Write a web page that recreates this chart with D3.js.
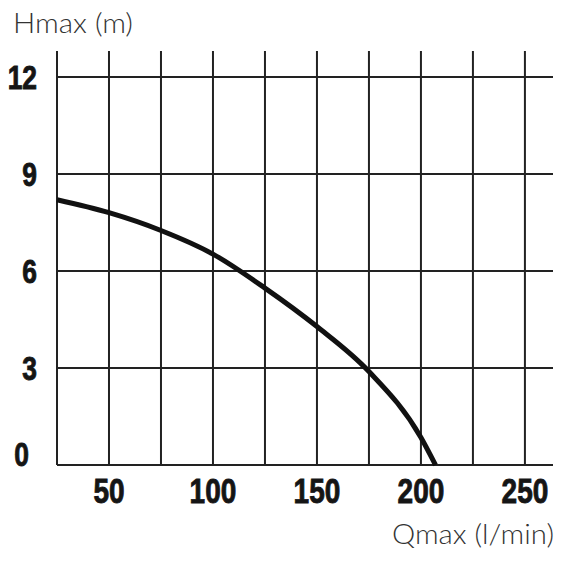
<!DOCTYPE html>
<html><head><meta charset="utf-8">
<script src="https://cdn.jsdelivr.net/npm/d3@7"></script>
<style>body{margin:0;background:#fff}svg{display:block}</style>
</head><body>
<svg id="c" width="564" height="564"></svg>
<script>
const flowQ = [25, 50, 75, 100, 125, 150, 175, 200, 207];
const headH = [8.2, 7.8, 7.25, 6.52, 5.47, 4.28, 2.89, 0.85, 0.0];
const xGrid = [25, 50, 75, 100, 125, 150, 175, 200, 225, 250];
const xTickLabels = [50, 100, 150, 200, 250];
const yTicks = [0, 3, 6, 9, 12];
const xTitle = "Qmax (l/min)";
const yTitle = "Hmax (m)";

const svg = d3.select("#c");
const x = d3.scaleLinear().domain([25, 263.5]).range([57, 553]);
const y = d3.scaleLinear().domain([0, 12.8]).range([465, 51]);
const grid = "#222";
const tickFont = "'Liberation Sans', Arial, sans-serif";

// vertical grid
svg.append("g").selectAll("line").data(xGrid).join("line")
  .attr("x1", d => x(d)).attr("x2", d => x(d))
  .attr("y1", y(12.8)).attr("y2", y(0))
  .attr("stroke", grid).attr("stroke-width", 2);
// horizontal grid
svg.append("g").selectAll("line").data(yTicks).join("line")
  .attr("x1", x(25)).attr("x2", x(263.5))
  .attr("y1", d => y(d)).attr("y2", d => y(d))
  .attr("stroke", grid).attr("stroke-width", 2);

// y tick labels (condensed bold)
svg.append("g").selectAll("text").data(yTicks).join("text")
  .attr("transform", d => `translate(${d === 0 ? 29 : 37},${y(d) + (d === 0 ? -11 : 0)}) scale(0.8,1)`)
  .attr("dy", "0.36em")
  .attr("text-anchor", "end")
  .attr("font-family", tickFont)
  .attr("font-weight", "bold").attr("font-size", 33)
  .attr("fill", "#151515").attr("stroke", "#151515").attr("stroke-width", 0.9)
  .text(d => d);

// x tick labels
svg.append("g").selectAll("text").data(xTickLabels).join("text")
  .attr("transform", d => `translate(${x(d)},503) scale(0.8,1)`)
  .attr("text-anchor", "middle")
  .attr("font-family", tickFont)
  .attr("font-weight", "bold").attr("font-size", 35)
  .attr("fill", "#151515").attr("stroke", "#151515").attr("stroke-width", 0.9)
  .text(d => d);

// titles
svg.append("text").attr("x", 13).attr("y", 33)
  .attr("textLength", 120).attr("lengthAdjust", "spacingAndGlyphs")
  .attr("font-family", "Lato, 'Open Sans', sans-serif").attr("font-weight", 300)
  .attr("font-size", 27).attr("fill", "#333").text(yTitle);
svg.append("text").attr("x", 392).attr("y", 544)
  .attr("textLength", 162).attr("lengthAdjust", "spacingAndGlyphs")
  .attr("font-family", "Lato, 'Open Sans', sans-serif").attr("font-weight", 300)
  .attr("font-size", 27).attr("fill", "#333").text(xTitle);

// curve
const pts = flowQ.map((q, i) => [q, headH[i]]);
const line = d3.line().x(d => x(d[0])).y(d => y(d[1])).curve(d3.curveMonotoneX);
svg.append("path").datum(pts).attr("d", line)
  .attr("fill", "none").attr("stroke", "#111").attr("stroke-width", 5);
</script>
</body></html>
